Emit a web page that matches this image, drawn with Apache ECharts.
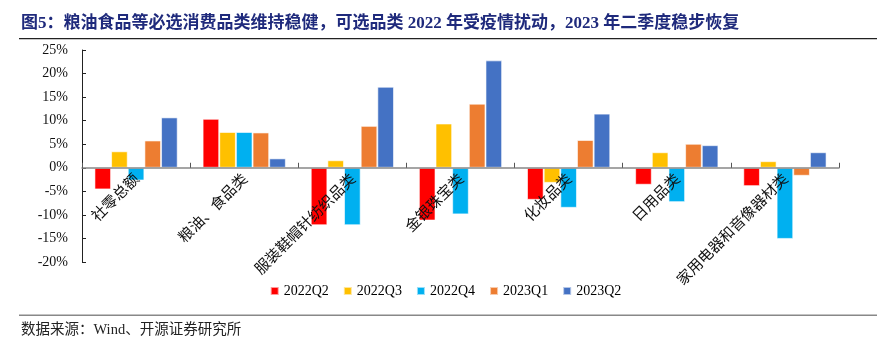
<!DOCTYPE html>
<html>
<head>
<meta charset="utf-8">
<script src="https://cdn.jsdelivr.net/npm/echarts@6/dist/echarts.min.js"></script>
<style>
  html, body { margin: 0; padding: 0; background: #fff; }
  #chart { width: 891px; height: 351px; }
</style>
</head>
<body>
<div id="chart"></div>
<script>
// 类别与数据（同比增速，%）
var categories = ['社零总额', '粮油、食品类', '服装鞋帽针纺织品类', '金银珠宝类', '化妆品类', '日用品类', '家用电器和音像器材类'];
var seriesNames = ['2022Q2', '2022Q3', '2022Q4', '2023Q1', '2023Q2'];
var q2022Q2 = [-4.6, 10.4, -12.2, -11.2, -6.8, -3.6, -3.9];
var q2022Q3 = [3.5, 7.6, 1.6, 9.4, -3.2, 3.3, 1.4];
var q2022Q4 = [-2.7, 7.6, -12.2, -9.9, -8.5, -7.3, -15.1];
var q2023Q1 = [5.8, 7.5, 8.9, 13.6, 5.9, 5.1, -1.7];
var q2023Q2 = [10.7, 2.0, 17.2, 22.8, 11.5, 4.8, 3.3];
var seriesData = [q2022Q2, q2022Q3, q2022Q4, q2023Q1, q2023Q2];
var colors = ['#FF0000', '#FFC000', '#00B0F0', '#ED7D31', '#4472C4'];
var yTicks = [-20, -15, -10, -5, 0, 5, 10, 15, 20, 25];

var yMin = yTicks[0], yMax = yTicks[yTicks.length - 1];
var gridTop = 50, gridBottom = 89, chartH = 351;
// 把x轴整体移到0值位置（标签也跟着走）
var plotH = chartH - gridTop - gridBottom;
var zeroOffset = -plotH * (0 - yMin) / (yMax - yMin);

var myChart = echarts.init(document.getElementById('chart'));

var series = seriesNames.map(function (name, i) {
  return {
    name: name,
    type: 'bar',
    data: seriesData[i],
    barGap: '0%',
    barCategoryGap: '23%',
    itemStyle: { color: colors[i], borderColor: 'rgba(255,255,255,0.6)', borderWidth: 1 }
  };
});

var option = {
  animation: false,
  color: colors,
  graphic: [
    {
      type: 'text', left: 21, top: 15,
      style: {
        text: '图5：粮油食品等必选消费品类维持稳健，可选品类 2022 年受疫情扰动，2023 年二季度稳步恢复',
        font: 'bold 17px "Liberation Serif", "Noto Sans CJK SC"',
        fill: '#1F2A7C'
      }
    },
    { type: 'rect', shape: { x: 19, y: 38, width: 858, height: 1.2 }, style: { fill: '#222' } },
    { type: 'rect', shape: { x: 19, y: 314.5, width: 858, height: 1.5 }, style: { fill: '#888' } },
    {
      type: 'text', left: 21, top: 323,
      style: {
        text: '数据来源：Wind、开源证券研究所',
        font: '14.5px "Liberation Serif", "Noto Sans CJK SC"',
        fill: '#222'
      }
    }
  ],
  legend: {
    data: seriesNames,
    top: 279,
    left: 'center',
    itemWidth: 8,
    itemHeight: 8,
    itemGap: 14,
    icon: 'rect',
    textStyle: { fontFamily: 'Liberation Serif', fontSize: 14, color: '#000' }
  },
  grid: { left: 82, right: 52, top: gridTop, bottom: gridBottom, containLabel: false, outerBoundsMode: 'none' },
  xAxis: {
    type: 'category',
    data: categories,
    z: 10,
    offset: zeroOffset,
    axisLine: { onZero: false, lineStyle: { color: '#888', width: 1.5 } },
    axisTick: { show: true, inside: true, length: 5, lineStyle: { color: '#555' } },
    axisLabel: {
      interval: 0,
      rotate: 45,
      margin: 8,
      fontFamily: 'Noto Sans CJK SC',
      fontSize: 15,
      color: '#111'
    }
  },
  yAxis: {
    type: 'value',
    min: yMin,
    max: yMax,
    interval: 5,
    splitLine: { show: false },
    axisLine: { show: true, lineStyle: { color: '#222', width: 1 } },
    axisTick: { show: true, inside: true, length: 4, lineStyle: { color: '#222' } },
    axisLabel: {
      formatter: '{value}%',
      margin: 14,
      fontFamily: 'Liberation Serif',
      fontSize: 14,
      color: '#111'
    }
  },
  series: series
};

myChart.setOption(option);
</script>
</body>
</html>
